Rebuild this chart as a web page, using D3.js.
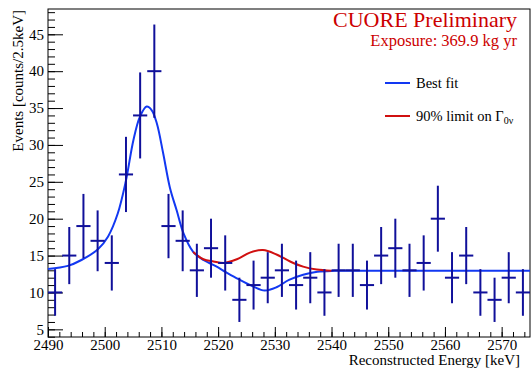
<!DOCTYPE html>
<html>
<head>
<meta charset="utf-8">
<script src="https://cdn.jsdelivr.net/npm/d3@7"></script>
<style>
  body { margin: 0; background: #fff; }
  text { font-family: "Liberation Serif", "Times New Roman", serif; }
</style>
</head>
<body>
<script>
// bin centres (2.5 keV bins) and counts
var binCenters = [2491.25, 2493.75, 2496.25, 2498.75, 2501.25, 2503.75, 2506.25, 2508.75,
                  2511.25, 2513.75, 2516.25, 2518.75, 2521.25, 2523.75, 2526.25, 2528.75,
                  2531.25, 2533.75, 2536.25, 2538.75, 2541.25, 2543.75, 2546.25, 2548.75,
                  2551.25, 2553.75, 2556.25, 2558.75, 2561.25, 2563.75, 2566.25, 2568.75,
                  2571.25, 2573.75]
var counts = [10, 15, 19, 17, 14, 26, 34, 40, 19, 17, 13, 16, 14, 9, 11, 12, 13, 11, 12, 10,
              13, 13, 11, 15, 16, 13, 14, 20, 12, 15, 10, 9, 12, 10]
var binWidth = 2.5

// best fit curve
var fitE = [2490.0, 2493.5, 2495.9, 2498.8, 2500.6, 2502.3, 2503.7, 2505.05, 2506.2, 2507.4,
            2508.3, 2509.2, 2510.3, 2511.5, 2512.7, 2513.9, 2515.6, 2517.4, 2519.5, 2521.5,
            2523.6, 2526.2, 2528.2, 2530.3, 2532.5, 2535.0, 2537.5, 2540.5, 2545, 2560, 2575]
var fitN = [13.18, 13.6, 14.4, 15.85, 17.6, 20.7, 25.0, 30.6, 33.8, 35.2,
            34.7, 32.9, 28.9, 24.2, 21.1, 18.0, 15.5, 14.4, 13.6, 12.7,
            11.8, 10.8, 10.25, 10.7, 11.7, 12.4, 12.8, 12.93, 12.95, 12.95, 12.95]

// 90% limit curve
var limE = [2515.6, 2517.4, 2519.2, 2521.0, 2523.3, 2525.6, 2527.9, 2530.3, 2532.7, 2535.0, 2537.4, 2540.0]
var limN = [15.5, 14.5, 14.2, 14.0, 14.5, 15.4, 15.75, 15.15, 14.2, 13.5, 13.1, 12.95]

var xMajor = d3.range(2490, 2571, 10)
var xMinor = d3.range(2490, 2576, 2)
var yMajor = d3.range(5, 46, 5)
var yMinor = d3.range(4, 49, 1)

var W = 531, H = 370
var plotL = 48, plotT = 9, plotR = 530, plotB = 337

var ptColor = "#10109a", fitColor = "#1238f2", limColor = "#d01010"

var svg = d3.select("body").append("svg")
    .attr("width", W)
    .attr("height", H)

var x = d3.scaleLinear().domain([2490, 2575]).range([plotL, plotR])
var y = d3.scaleLinear().domain([3.96, 48.43]).range([plotB, plotT])

// axes
svg.append("g")
    .attr("transform", "translate(0," + plotB + ")")
    .call(d3.axisBottom(x).tickValues(xMajor).tickSizeInner(-10).tickSizeOuter(0).tickPadding(2).tickFormat(d3.format("d")))
svg.append("g")
    .attr("transform", "translate(0," + plotB + ")")
    .call(d3.axisBottom(x).tickValues(xMinor).tickSizeInner(-5).tickSizeOuter(0).tickFormat(""))
svg.append("g")
    .attr("transform", "translate(" + plotL + ",0)")
    .call(d3.axisLeft(y).tickValues(yMajor).tickSizeInner(-15).tickSizeOuter(0).tickPadding(4))
svg.append("g")
    .attr("transform", "translate(" + plotL + ",0)")
    .call(d3.axisLeft(y).tickValues(yMinor).tickSizeInner(-7).tickSizeOuter(0).tickFormat(""))

svg.selectAll(".domain").remove()
svg.selectAll(".tick line").attr("stroke", "#000")
svg.selectAll(".tick text")
    .attr("fill", "#000")
    .style("font-size", "15px")
    .style("font-family", "Liberation Serif")

// frame
svg.append("rect")
    .attr("x", plotL).attr("y", plotT)
    .attr("width", plotR - plotL).attr("height", plotB - plotT)
    .attr("fill", "none")
    .attr("stroke", "#000")
    .attr("stroke-width", 1)

// axis titles
svg.append("text")
    .attr("x", 520).attr("y", 365)
    .attr("text-anchor", "end")
    .style("font-size", "15px")
    .text("Reconstructed Energy [keV]")

svg.append("text")
    .attr("transform", "translate(23,10) rotate(-90)")
    .attr("text-anchor", "end")
    .style("font-size", "15px")
    .text("Events [counts/2.5keV]")

// curves
var line = d3.line()
    .x(d => x(d[0]))
    .y(d => y(d[1]))
    .curve(d3.curveCatmullRom)

svg.append("path")
    .datum(d3.zip(fitE, fitN))
    .attr("d", line)
    .attr("fill", "none")
    .attr("stroke", fitColor)
    .attr("stroke-width", 2)

svg.append("path")
    .datum(d3.zip(limE, limN))
    .attr("d", line)
    .attr("fill", "none")
    .attr("stroke", limColor)
    .attr("stroke-width", 2)

// data points with sqrt(N) errors
var pts = svg.append("g").attr("stroke", ptColor).attr("stroke-width", 2)
var data = d3.zip(binCenters, counts)

pts.selectAll(".hbar")
    .data(data)
    .enter()
    .append("line")
    .attr("x1", d => x(d[0] - binWidth / 2))
    .attr("x2", d => x(d[0] + binWidth / 2))
    .attr("y1", d => y(d[1]))
    .attr("y2", d => y(d[1]))

pts.selectAll(".vbar")
    .data(data)
    .enter()
    .append("line")
    .attr("x1", d => x(d[0]))
    .attr("x2", d => x(d[0]))
    .attr("y1", d => y(d[1] - Math.sqrt(d[1])))
    .attr("y2", d => y(d[1] + Math.sqrt(d[1])))

// labels
svg.append("text")
    .attr("x", 517).attr("y", 27)
    .attr("text-anchor", "end")
    .attr("fill", "#cc0000")
    .style("font-size", "22px")
    .text("CUORE Preliminary")

svg.append("text")
    .attr("x", 517).attr("y", 46)
    .attr("text-anchor", "end")
    .attr("fill", "#cc0000")
    .style("font-size", "16.5px")
    .text("Exposure: 369.9 kg yr")

// legend
var legend = svg.append("g")
legend.append("line")
    .attr("x1", 385).attr("x2", 410).attr("y1", 83).attr("y2", 83)
    .attr("stroke", fitColor).attr("stroke-width", 2)
legend.append("text")
    .attr("x", 416).attr("y", 88)
    .style("font-size", "14.5px")
    .text("Best fit")

legend.append("line")
    .attr("x1", 385).attr("x2", 410).attr("y1", 116).attr("y2", 116)
    .attr("stroke", limColor).attr("stroke-width", 2)
var lt = legend.append("text")
    .attr("x", 416).attr("y", 121)
    .style("font-size", "14.5px")
lt.append("tspan").text("90% limit on Γ")
lt.append("tspan")
    .attr("dy", 3)
    .style("font-size", "10px")
    .text("0ν")
</script>
</body>
</html>
